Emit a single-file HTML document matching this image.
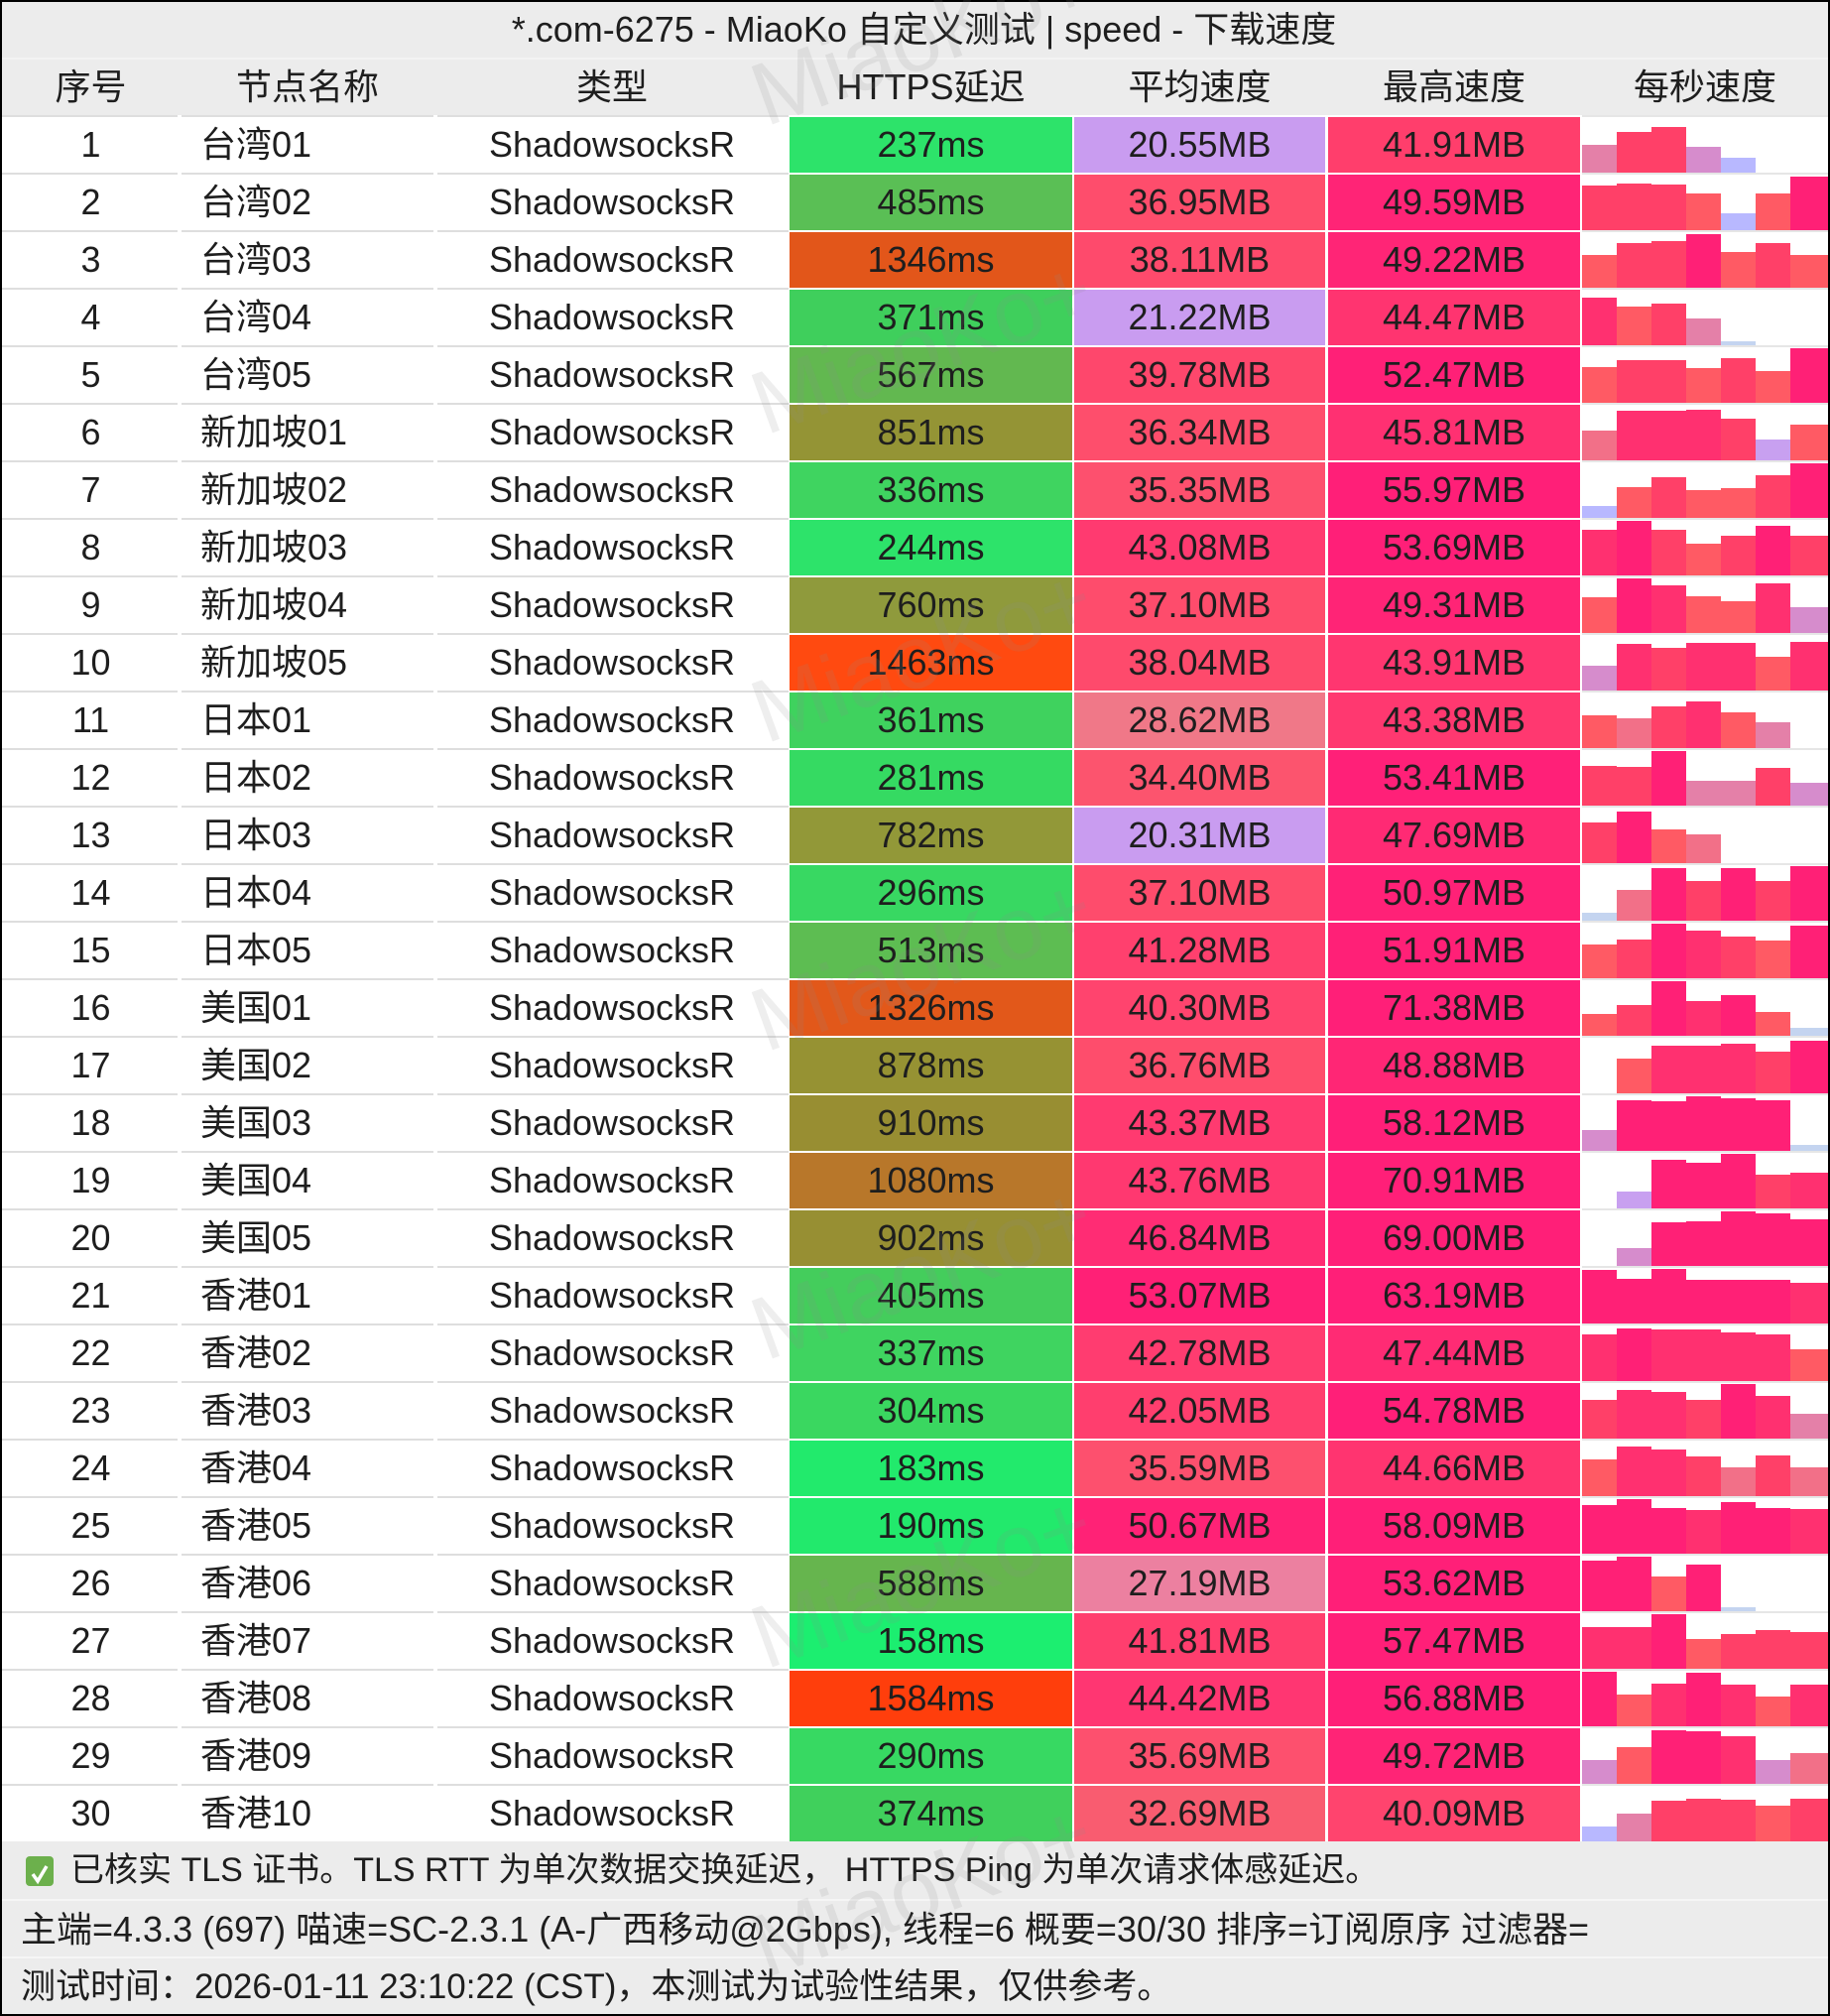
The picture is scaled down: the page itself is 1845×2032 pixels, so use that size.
<!DOCTYPE html>
<html><head><meta charset="utf-8"><style>
*{box-sizing:border-box}
body{margin:0;width:1845px;height:2032px;background:#000;position:relative;overflow:hidden;font-family:"Liberation Sans","Noto Sans CJK SC",sans-serif;font-size:36px;color:#1e1e1e}
.t{position:absolute;left:2px;top:2px;width:1841px;height:56px;background:#ececec;line-height:56px;text-align:center;padding-left:18px;white-space:nowrap}
.h{position:absolute;left:2px;top:58px;width:1841px;height:58px;background:#ececec;border-top:2px solid #f3f3f3}
.h div{position:absolute;top:0;height:56px;line-height:56px;text-align:center;white-space:nowrap}
.r{position:absolute;left:2px;width:1841px;height:58px;background-color:#fff;
background-image:linear-gradient(#dedede,#dedede),linear-gradient(#dedede,#dedede),linear-gradient(#dedede,#dedede),linear-gradient(#e6e6e6,#e6e6e6);
background-repeat:no-repeat;background-size:177px 2px,254px 2px,354px 2px,248px 2px;background-position:0 0,181px 0,439px 0,1593px 0}
.r div{position:absolute;top:2px;height:56px;line-height:56px;white-space:nowrap}
.c1{left:0;width:179px;text-align:center}
.c2{left:179px;width:258px;padding-left:21px;text-align:left}
.h .c2{text-align:center;padding-left:0}
.c3{left:437px;width:356px;text-align:center}
.c4{left:794px;width:285px;text-align:center}
.c5{left:1081px;width:253px;text-align:center}
.c6{left:1337px;width:254px;text-align:center}
.c7{left:1593px;width:248px;text-align:center}
.r .c7 i{position:absolute;bottom:0;width:35px;display:block}
.r .c7 i:nth-child(1){left:0}
.r .c7 i:nth-child(2){left:35px}
.r .c7 i:nth-child(3){left:70px}
.r .c7 i:nth-child(4){left:105px}
.r .c7 i:nth-child(5){left:140px}
.r .c7 i:nth-child(6){left:175px}
.r .c7 i:nth-child(7){left:210px;width:38px}
i.a{background:#ff2076}i.b{background:#ff3070}i.c{background:#ff4068}i.d{background:#ff5a64}i.e{background:#f27088}
i.f{background:#e480a8}i.g{background:#d68ccc}i.hh{background:#c8a0f0}i.i{background:#b8b8ff}i.j{background:#c4d4f0}
.f{position:absolute;left:2px;width:1841px;height:58px;background:#ececec;line-height:58px;white-space:nowrap;padding-left:19px}
.wm{position:absolute;left:930px;font-size:90px;color:rgba(140,140,140,0.15);transform:translate(-50%,-50%) rotate(-20deg);white-space:nowrap;pointer-events:none}
</style></head><body>
<div class="t">*.com-6275 - MiaoKo 自定义测试 | speed - 下载速度</div>
<div class="h"><div class="c1">序号</div><div class="c2">节点名称</div><div class="c3">类型</div><div class="c4">HTTPS延迟</div><div class="c5">平均速度</div><div class="c6">最高速度</div><div class="c7">每秒速度</div></div>

<div class="r" style="top:116px"><div class="c1">1</div><div class="c2">台湾01</div><div class="c3">ShadowsocksR</div><div class="c4" style="background:#2de36a">237ms</div><div class="c5" style="background:#c99cf0">20.55MB</div><div class="c6" style="background:#ff3e6c">41.91MB</div><div class="c7"><i class="f" style="height:28px"></i><i class="c" style="height:41px"></i><i class="c" style="height:46px"></i><i class="g" style="height:26px"></i><i class="i" style="height:15px"></i><i style="height:0"></i><i style="height:0"></i></div></div>
<div class="r" style="top:174px"><div class="c1">2</div><div class="c2">台湾02</div><div class="c3">ShadowsocksR</div><div class="c4" style="background:#5abf55">485ms</div><div class="c5" style="background:#fe4d6c">36.95MB</div><div class="c6" style="background:#ff2476">49.59MB</div><div class="c7"><i class="c" style="height:45px"></i><i class="c" style="height:47px"></i><i class="c" style="height:46px"></i><i class="d" style="height:37px"></i><i class="i" style="height:17px"></i><i class="d" style="height:37px"></i><i class="a" style="height:54px"></i></div></div>
<div class="r" style="top:232px"><div class="c1">3</div><div class="c2">台湾03</div><div class="c3">ShadowsocksR</div><div class="c4" style="background:#e2561a">1346ms</div><div class="c5" style="background:#fe4a6c">38.11MB</div><div class="c6" style="background:#ff2576">49.22MB</div><div class="c7"><i class="d" style="height:33px"></i><i class="c" style="height:45px"></i><i class="c" style="height:47px"></i><i class="a" style="height:54px"></i><i class="d" style="height:36px"></i><i class="c" style="height:45px"></i><i class="d" style="height:33px"></i></div></div>
<div class="r" style="top:290px"><div class="c1">4</div><div class="c2">台湾04</div><div class="c3">ShadowsocksR</div><div class="c4" style="background:#3fcf5c">371ms</div><div class="c5" style="background:#c99cf0">21.22MB</div><div class="c6" style="background:#ff3470">44.47MB</div><div class="c7"><i class="b" style="height:48px"></i><i class="d" style="height:39px"></i><i class="c" style="height:42px"></i><i class="f" style="height:27px"></i><i class="j" style="height:4px"></i><i style="height:0"></i><i style="height:0"></i></div></div>
<div class="r" style="top:348px"><div class="c1">5</div><div class="c2">台湾05</div><div class="c3">ShadowsocksR</div><div class="c4" style="background:#62b850">567ms</div><div class="c5" style="background:#fe476c">39.78MB</div><div class="c6" style="background:#ff2077">52.47MB</div><div class="c7"><i class="d" style="height:36px"></i><i class="c" style="height:43px"></i><i class="c" style="height:43px"></i><i class="d" style="height:35px"></i><i class="c" style="height:45px"></i><i class="d" style="height:32px"></i><i class="a" style="height:55px"></i></div></div>
<div class="r" style="top:406px"><div class="c1">6</div><div class="c2">新加坡01</div><div class="c3">ShadowsocksR</div><div class="c4" style="background:#949435">851ms</div><div class="c5" style="background:#fe4e6c">36.34MB</div><div class="c6" style="background:#ff3072">45.81MB</div><div class="c7"><i class="e" style="height:30px"></i><i class="b" style="height:50px"></i><i class="b" style="height:50px"></i><i class="b" style="height:51px"></i><i class="c" style="height:42px"></i><i class="hh" style="height:21px"></i><i class="d" style="height:36px"></i></div></div>
<div class="r" style="top:464px"><div class="c1">7</div><div class="c2">新加坡02</div><div class="c3">ShadowsocksR</div><div class="c4" style="background:#3fd460">336ms</div><div class="c5" style="background:#fd506e">35.35MB</div><div class="c6" style="background:#ff1f78">55.97MB</div><div class="c7"><i class="i" style="height:12px"></i><i class="d" style="height:31px"></i><i class="c" style="height:41px"></i><i class="d" style="height:28px"></i><i class="d" style="height:30px"></i><i class="c" style="height:43px"></i><i class="a" style="height:55px"></i></div></div>
<div class="r" style="top:522px"><div class="c1">8</div><div class="c2">新加坡03</div><div class="c3">ShadowsocksR</div><div class="c4" style="background:#2de36a">244ms</div><div class="c5" style="background:#ff3a70">43.08MB</div><div class="c6" style="background:#ff1f78">53.69MB</div><div class="c7"><i class="b" style="height:46px"></i><i class="a" style="height:55px"></i><i class="c" style="height:46px"></i><i class="d" style="height:32px"></i><i class="c" style="height:40px"></i><i class="a" style="height:50px"></i><i class="c" style="height:40px"></i></div></div>
<div class="r" style="top:580px"><div class="c1">9</div><div class="c2">新加坡04</div><div class="c3">ShadowsocksR</div><div class="c4" style="background:#8f9a3c">760ms</div><div class="c5" style="background:#fe4c6c">37.10MB</div><div class="c6" style="background:#ff2476">49.31MB</div><div class="c7"><i class="d" style="height:36px"></i><i class="a" style="height:55px"></i><i class="b" style="height:48px"></i><i class="d" style="height:37px"></i><i class="d" style="height:32px"></i><i class="b" style="height:50px"></i><i class="g" style="height:26px"></i></div></div>
<div class="r" style="top:638px"><div class="c1">10</div><div class="c2">新加坡05</div><div class="c3">ShadowsocksR</div><div class="c4" style="background:#ff4a10">1463ms</div><div class="c5" style="background:#fe4a6c">38.04MB</div><div class="c6" style="background:#ff3670">43.91MB</div><div class="c7"><i class="g" style="height:25px"></i><i class="b" style="height:47px"></i><i class="c" style="height:43px"></i><i class="b" style="height:48px"></i><i class="b" style="height:48px"></i><i class="d" style="height:34px"></i><i class="b" style="height:49px"></i></div></div>
<div class="r" style="top:696px"><div class="c1">11</div><div class="c2">日本01</div><div class="c3">ShadowsocksR</div><div class="c4" style="background:#3fd25e">361ms</div><div class="c5" style="background:#f07888">28.62MB</div><div class="c6" style="background:#ff3870">43.38MB</div><div class="c7"><i class="d" style="height:33px"></i><i class="e" style="height:30px"></i><i class="c" style="height:42px"></i><i class="b" style="height:47px"></i><i class="d" style="height:36px"></i><i class="f" style="height:26px"></i><i style="height:0"></i></div></div>
<div class="r" style="top:754px"><div class="c1">12</div><div class="c2">日本02</div><div class="c3">ShadowsocksR</div><div class="c4" style="background:#35da62">281ms</div><div class="c5" style="background:#fc546e">34.40MB</div><div class="c6" style="background:#ff2078">53.41MB</div><div class="c7"><i class="c" style="height:40px"></i><i class="c" style="height:39px"></i><i class="a" style="height:55px"></i><i class="f" style="height:25px"></i><i class="f" style="height:25px"></i><i class="c" style="height:38px"></i><i class="g" style="height:23px"></i></div></div>
<div class="r" style="top:812px"><div class="c1">13</div><div class="c2">日本03</div><div class="c3">ShadowsocksR</div><div class="c4" style="background:#929838">782ms</div><div class="c5" style="background:#c99cf0">20.31MB</div><div class="c6" style="background:#ff2a74">47.69MB</div><div class="c7"><i class="c" style="height:41px"></i><i class="a" style="height:52px"></i><i class="d" style="height:34px"></i><i class="e" style="height:29px"></i><i style="height:0"></i><i style="height:0"></i><i style="height:0"></i></div></div>
<div class="r" style="top:870px"><div class="c1">14</div><div class="c2">日本04</div><div class="c3">ShadowsocksR</div><div class="c4" style="background:#38d862">296ms</div><div class="c5" style="background:#fe4c6c">37.10MB</div><div class="c6" style="background:#ff2177">50.97MB</div><div class="c7"><i class="j" style="height:8px"></i><i class="e" style="height:31px"></i><i class="a" style="height:53px"></i><i class="c" style="height:40px"></i><i class="a" style="height:53px"></i><i class="c" style="height:40px"></i><i class="a" style="height:55px"></i></div></div>
<div class="r" style="top:928px"><div class="c1">15</div><div class="c2">日本05</div><div class="c3">ShadowsocksR</div><div class="c4" style="background:#5dbd52">513ms</div><div class="c5" style="background:#ff406e">41.28MB</div><div class="c6" style="background:#ff2077">51.91MB</div><div class="c7"><i class="d" style="height:34px"></i><i class="c" style="height:39px"></i><i class="a" style="height:55px"></i><i class="b" style="height:48px"></i><i class="c" style="height:42px"></i><i class="d" style="height:38px"></i><i class="a" style="height:53px"></i></div></div>
<div class="r" style="top:986px"><div class="c1">16</div><div class="c2">美国01</div><div class="c3">ShadowsocksR</div><div class="c4" style="background:#e2581a">1326ms</div><div class="c5" style="background:#ff446e">40.30MB</div><div class="c6" style="background:#ff1f78">71.38MB</div><div class="c7"><i class="d" style="height:22px"></i><i class="c" style="height:31px"></i><i class="a" style="height:55px"></i><i class="b" style="height:35px"></i><i class="a" style="height:41px"></i><i class="d" style="height:24px"></i><i class="j" style="height:8px"></i></div></div>
<div class="r" style="top:1044px"><div class="c1">17</div><div class="c2">美国02</div><div class="c3">ShadowsocksR</div><div class="c4" style="background:#969233">878ms</div><div class="c5" style="background:#fe4d6c">36.76MB</div><div class="c6" style="background:#ff2675">48.88MB</div><div class="c7"><i style="height:0"></i><i class="d" style="height:35px"></i><i class="b" style="height:48px"></i><i class="b" style="height:48px"></i><i class="b" style="height:50px"></i><i class="c" style="height:42px"></i><i class="a" style="height:53px"></i></div></div>
<div class="r" style="top:1102px"><div class="c1">18</div><div class="c2">美国03</div><div class="c3">ShadowsocksR</div><div class="c4" style="background:#988e32">910ms</div><div class="c5" style="background:#ff3a70">43.37MB</div><div class="c6" style="background:#ff1f78">58.12MB</div><div class="c7"><i class="g" style="height:21px"></i><i class="a" style="height:51px"></i><i class="a" style="height:50px"></i><i class="a" style="height:55px"></i><i class="a" style="height:53px"></i><i class="a" style="height:51px"></i><i class="j" style="height:6px"></i></div></div>
<div class="r" style="top:1160px"><div class="c1">19</div><div class="c2">美国04</div><div class="c3">ShadowsocksR</div><div class="c4" style="background:#b8772a">1080ms</div><div class="c5" style="background:#ff3870">43.76MB</div><div class="c6" style="background:#ff1f78">70.91MB</div><div class="c7"><i style="height:0"></i><i class="hh" style="height:17px"></i><i class="a" style="height:49px"></i><i class="a" style="height:46px"></i><i class="a" style="height:55px"></i><i class="c" style="height:34px"></i><i class="b" style="height:36px"></i></div></div>
<div class="r" style="top:1218px"><div class="c1">20</div><div class="c2">美国05</div><div class="c3">ShadowsocksR</div><div class="c4" style="background:#978f33">902ms</div><div class="c5" style="background:#ff2c74">46.84MB</div><div class="c6" style="background:#ff1f78">69.00MB</div><div class="c7"><i style="height:0"></i><i class="g" style="height:18px"></i><i class="a" style="height:44px"></i><i class="a" style="height:45px"></i><i class="a" style="height:55px"></i><i class="a" style="height:53px"></i><i class="a" style="height:47px"></i></div></div>
<div class="r" style="top:1276px"><div class="c1">21</div><div class="c2">香港01</div><div class="c3">ShadowsocksR</div><div class="c4" style="background:#44cd5c">405ms</div><div class="c5" style="background:#ff2076">53.07MB</div><div class="c6" style="background:#ff1f78">63.19MB</div><div class="c7"><i class="a" style="height:54px"></i><i class="a" style="height:45px"></i><i class="a" style="height:55px"></i><i class="a" style="height:44px"></i><i class="a" style="height:44px"></i><i class="a" style="height:44px"></i><i class="b" style="height:41px"></i></div></div>
<div class="r" style="top:1334px"><div class="c1">22</div><div class="c2">香港02</div><div class="c3">ShadowsocksR</div><div class="c4" style="background:#3fd460">337ms</div><div class="c5" style="background:#ff3c70">42.78MB</div><div class="c6" style="background:#ff2b74">47.44MB</div><div class="c7"><i class="b" style="height:47px"></i><i class="a" style="height:53px"></i><i class="b" style="height:52px"></i><i class="b" style="height:52px"></i><i class="b" style="height:49px"></i><i class="b" style="height:47px"></i><i class="d" style="height:32px"></i></div></div>
<div class="r" style="top:1392px"><div class="c1">23</div><div class="c2">香港03</div><div class="c3">ShadowsocksR</div><div class="c4" style="background:#3ad760">304ms</div><div class="c5" style="background:#ff3e6e">42.05MB</div><div class="c6" style="background:#ff1f78">54.78MB</div><div class="c7"><i class="c" style="height:39px"></i><i class="b" style="height:49px"></i><i class="b" style="height:47px"></i><i class="c" style="height:39px"></i><i class="a" style="height:55px"></i><i class="b" style="height:43px"></i><i class="f" style="height:25px"></i></div></div>
<div class="r" style="top:1450px"><div class="c1">24</div><div class="c2">香港04</div><div class="c3">ShadowsocksR</div><div class="c4" style="background:#22ea6c">183ms</div><div class="c5" style="background:#fd506e">35.59MB</div><div class="c6" style="background:#ff3470">44.66MB</div><div class="c7"><i class="d" style="height:37px"></i><i class="b" style="height:50px"></i><i class="b" style="height:47px"></i><i class="c" style="height:40px"></i><i class="e" style="height:29px"></i><i class="c" style="height:41px"></i><i class="e" style="height:29px"></i></div></div>
<div class="r" style="top:1508px"><div class="c1">25</div><div class="c2">香港05</div><div class="c3">ShadowsocksR</div><div class="c4" style="background:#22e96c">190ms</div><div class="c5" style="background:#ff2276">50.67MB</div><div class="c6" style="background:#ff1f78">58.09MB</div><div class="c7"><i class="a" style="height:49px"></i><i class="a" style="height:55px"></i><i class="a" style="height:46px"></i><i class="b" style="height:44px"></i><i class="a" style="height:52px"></i><i class="a" style="height:46px"></i><i class="b" style="height:45px"></i></div></div>
<div class="r" style="top:1566px"><div class="c1">26</div><div class="c2">香港06</div><div class="c3">ShadowsocksR</div><div class="c4" style="background:#66b54e">588ms</div><div class="c5" style="background:#ec80a0">27.19MB</div><div class="c6" style="background:#ff1f78">53.62MB</div><div class="c7"><i class="a" style="height:51px"></i><i class="a" style="height:55px"></i><i class="d" style="height:35px"></i><i class="a" style="height:47px"></i><i class="j" style="height:4px"></i><i style="height:0"></i><i style="height:0"></i></div></div>
<div class="r" style="top:1624px"><div class="c1">27</div><div class="c2">香港07</div><div class="c3">ShadowsocksR</div><div class="c4" style="background:#1cee70">158ms</div><div class="c5" style="background:#ff3e6e">41.81MB</div><div class="c6" style="background:#ff1f78">57.47MB</div><div class="c7"><i class="b" style="height:42px"></i><i class="b" style="height:42px"></i><i class="a" style="height:55px"></i><i class="d" style="height:30px"></i><i class="c" style="height:35px"></i><i class="c" style="height:39px"></i><i class="c" style="height:37px"></i></div></div>
<div class="r" style="top:1682px"><div class="c1">28</div><div class="c2">香港08</div><div class="c3">ShadowsocksR</div><div class="c4" style="background:#ff3e0c">1584ms</div><div class="c5" style="background:#ff3672">44.42MB</div><div class="c6" style="background:#ff1f78">56.88MB</div><div class="c7"><i class="a" style="height:55px"></i><i class="d" style="height:32px"></i><i class="b" style="height:43px"></i><i class="a" style="height:54px"></i><i class="b" style="height:42px"></i><i class="d" style="height:30px"></i><i class="b" style="height:42px"></i></div></div>
<div class="r" style="top:1740px"><div class="c1">29</div><div class="c2">香港09</div><div class="c3">ShadowsocksR</div><div class="c4" style="background:#37d962">290ms</div><div class="c5" style="background:#fd506e">35.69MB</div><div class="c6" style="background:#ff2476">49.72MB</div><div class="c7"><i class="g" style="height:24px"></i><i class="d" style="height:37px"></i><i class="a" style="height:54px"></i><i class="a" style="height:53px"></i><i class="b" style="height:48px"></i><i class="g" style="height:24px"></i><i class="e" style="height:31px"></i></div></div>
<div class="r" style="top:1798px"><div class="c1">30</div><div class="c2">香港10</div><div class="c3">ShadowsocksR</div><div class="c4" style="background:#40d05c">374ms</div><div class="c5" style="background:#f95c70">32.69MB</div><div class="c6" style="background:#ff446e">40.09MB</div><div class="c7"><i class="i" style="height:15px"></i><i class="f" style="height:28px"></i><i class="c" style="height:41px"></i><i class="c" style="height:43px"></i><i class="c" style="height:42px"></i><i class="d" style="height:36px"></i><i class="c" style="height:43px"></i></div></div>

<div class="f" style="top:1856px;padding-left:69px;font-size:34px">已核实 TLS 证书。TLS RTT 为单次数据交换延迟， HTTPS Ping 为单次请求体感延迟。</div>
<div style="position:absolute;left:26px;top:1871px;width:28px;height:30px;background:#6cb04c;border-radius:4px"><svg width="28" height="30" viewBox="0 0 28 30"><polyline points="7,15 12,22 21,7" fill="none" stroke="#fff" stroke-width="3.5"/></svg></div>
<div class="f" style="top:1914px;border-top:2px solid #f6f6f6">主端=4.3.3 (697) 喵速=SC-2.3.1 (A-广西移动@2Gbps), 线程=6 概要=30/30 排序=订阅原序 过滤器=</div>
<div class="f" style="top:1972px;border-top:2px solid #f6f6f6;font-size:35px">测试时间：2026-01-11 23:10:22 (CST)，本测试为试验性结果，仅供参考。</div>

<div class="wm" style="top:39px">MiaoKo+</div>
<div class="wm" style="top:350px">MiaoKo+</div>
<div class="wm" style="top:661px">MiaoKo+</div>
<div class="wm" style="top:972px">MiaoKo+</div>
<div class="wm" style="top:1283px">MiaoKo+</div>
<div class="wm" style="top:1594px">MiaoKo+</div>
<div class="wm" style="top:1905px">MiaoKo+</div>
</body></html>
